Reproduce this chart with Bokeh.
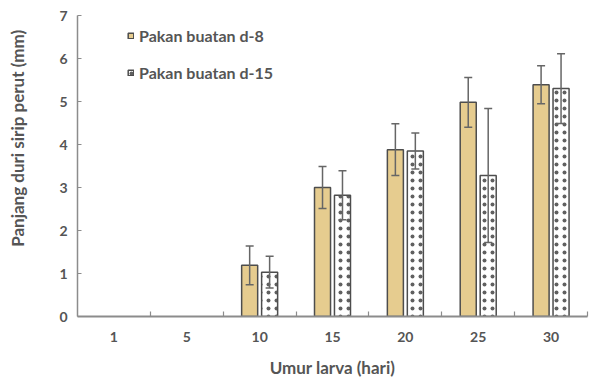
import math
from bokeh.plotting import figure
from bokeh.models import ColumnDataSource, FixedTicker, Whisker, TeeHead, Legend, LegendItem
from bokeh.transform import dodge
from bokeh.embed import file_html
from bokeh.resources import INLINE

# ---- data ----
days = ["1", "5", "10", "15", "20", "25", "30"]
d8_mean = [None, None, 1.19, 3.00, 3.88, 4.98, 5.39]
d8_err = [None, None, 0.45, 0.49, 0.60, 0.58, 0.44]
d15_mean = [None, None, 1.03, 2.82, 3.85, 3.28, 5.30]
d15_err = [None, None, 0.37, 0.57, 0.42, 1.56, 0.81]
series_names = ["Pakan buatan d-8", "Pakan buatan d-15"]
y_ticks = [0, 1, 2, 3, 4, 5, 6, 7]
x_title = "Umur larva (hari)"
y_title = "Panjang duri sirip perut (mm)"

FONT = "Lato"
TXT = "#555555"

centers = [i + 0.5 for i in range(len(days))]
idx = [i for i, v in enumerate(d8_mean) if v is not None]
src = ColumnDataSource(dict(
    x=[centers[i] for i in idx],
    m8=[d8_mean[i] for i in idx],
    lo8=[d8_mean[i] - d8_err[i] for i in idx],
    hi8=[d8_mean[i] + d8_err[i] for i in idx],
    m15=[d15_mean[i] for i in idx],
    lo15=[d15_mean[i] - d15_err[i] for i in idx],
    hi15=[d15_mean[i] + d15_err[i] for i in idx],
))

p = figure(width=590, height=382, x_range=(0, len(days)), y_range=(0, 7),
           output_backend="svg", toolbar_location=None,
           min_border_left=77, min_border_right=3, min_border_top=15, min_border_bottom=66)
p.outline_line_color = None
p.xgrid.grid_line_color = None
p.ygrid.grid_line_color = None
p.background_fill_color = "white"

off = 0.137
bw = 0.22
r8 = p.vbar(x=dodge("x", -off), top="m8", width=bw, source=src,
            fill_color="#E6CC8F", line_color="#4d4d4d", line_width=1.5)
r15 = p.vbar(x=dodge("x", off), top="m15", width=bw, source=src,
             fill_color="white", line_color="#4d4d4d", line_width=1.5,
             hatch_pattern="dot", hatch_color="#444444", hatch_alpha=0.85,
             hatch_scale=8, hatch_weight=1.0)

for col_lo, col_hi, o in (("lo8", "hi8", -off), ("lo15", "hi15", off)):
    w = Whisker(base=dodge("x", o), lower=col_lo, upper=col_hi, source=src,
                line_color="#666666", line_width=1.5, level="annotation",
                upper_head=TeeHead(size=8, line_color="#666666", line_width=1.5),
                lower_head=TeeHead(size=8, line_color="#666666", line_width=1.5))
    p.add_layout(w)

# axes
xa = p.xaxis[0]
xa.ticker = FixedTicker(ticks=centers, minor_ticks=list(range(1, len(days) + 1)))
xa.major_label_overrides = {c: d for c, d in zip(centers, days)}
xa.major_tick_in = 0
xa.major_tick_out = 0
xa.minor_tick_in = 5
xa.minor_tick_out = 0
xa.minor_tick_line_color = "#8c8c8c"
xa.minor_tick_line_width = 1.2
xa.axis_line_color = "#8c8c8c"
xa.axis_line_width = 2
xa.major_label_standoff = 15
xa.axis_label = x_title
xa.axis_label_standoff = 12

ya = p.yaxis[0]
ya.ticker = FixedTicker(ticks=y_ticks)
ya.minor_tick_line_color = None
ya.major_tick_in = 4
ya.major_tick_out = 0
ya.major_tick_line_color = "#8c8c8c"
ya.axis_line_color = "#8c8c8c"
ya.axis_line_width = 1.5
ya.major_label_standoff = 10
# leading wide spaces shift the centred title upward, as in the reference
ya.axis_label = "\u2003\u2003\u2003\u2003\u2009\u2009" + y_title
ya.axis_label_standoff = 28

for ax in (xa, ya):
    ax.major_label_text_font = FONT
    ax.major_label_text_font_style = "bold"
    ax.major_label_text_font_size = "14px"
    ax.major_label_text_color = TXT
    ax.axis_label_text_font = FONT
    ax.axis_label_text_font_style = "bold"
    ax.axis_label_text_font_size = "17px"
    ax.axis_label_text_color = TXT

legend = Legend(items=[LegendItem(label=series_names[0], renderers=[r8]),
                       LegendItem(label=series_names[1], renderers=[r15])],
                location=(50, 234), orientation="vertical",
                glyph_width=7, glyph_height=7, label_height=15, spacing=18,
                padding=0, margin=0, label_standoff=5,
                border_line_color=None, background_fill_alpha=0,
                label_text_font=FONT, label_text_font_style="bold",
                label_text_font_size="16px", label_text_color=TXT)
p.add_layout(legend, "center")

open("out.html", "w").write(file_html(p, INLINE))
